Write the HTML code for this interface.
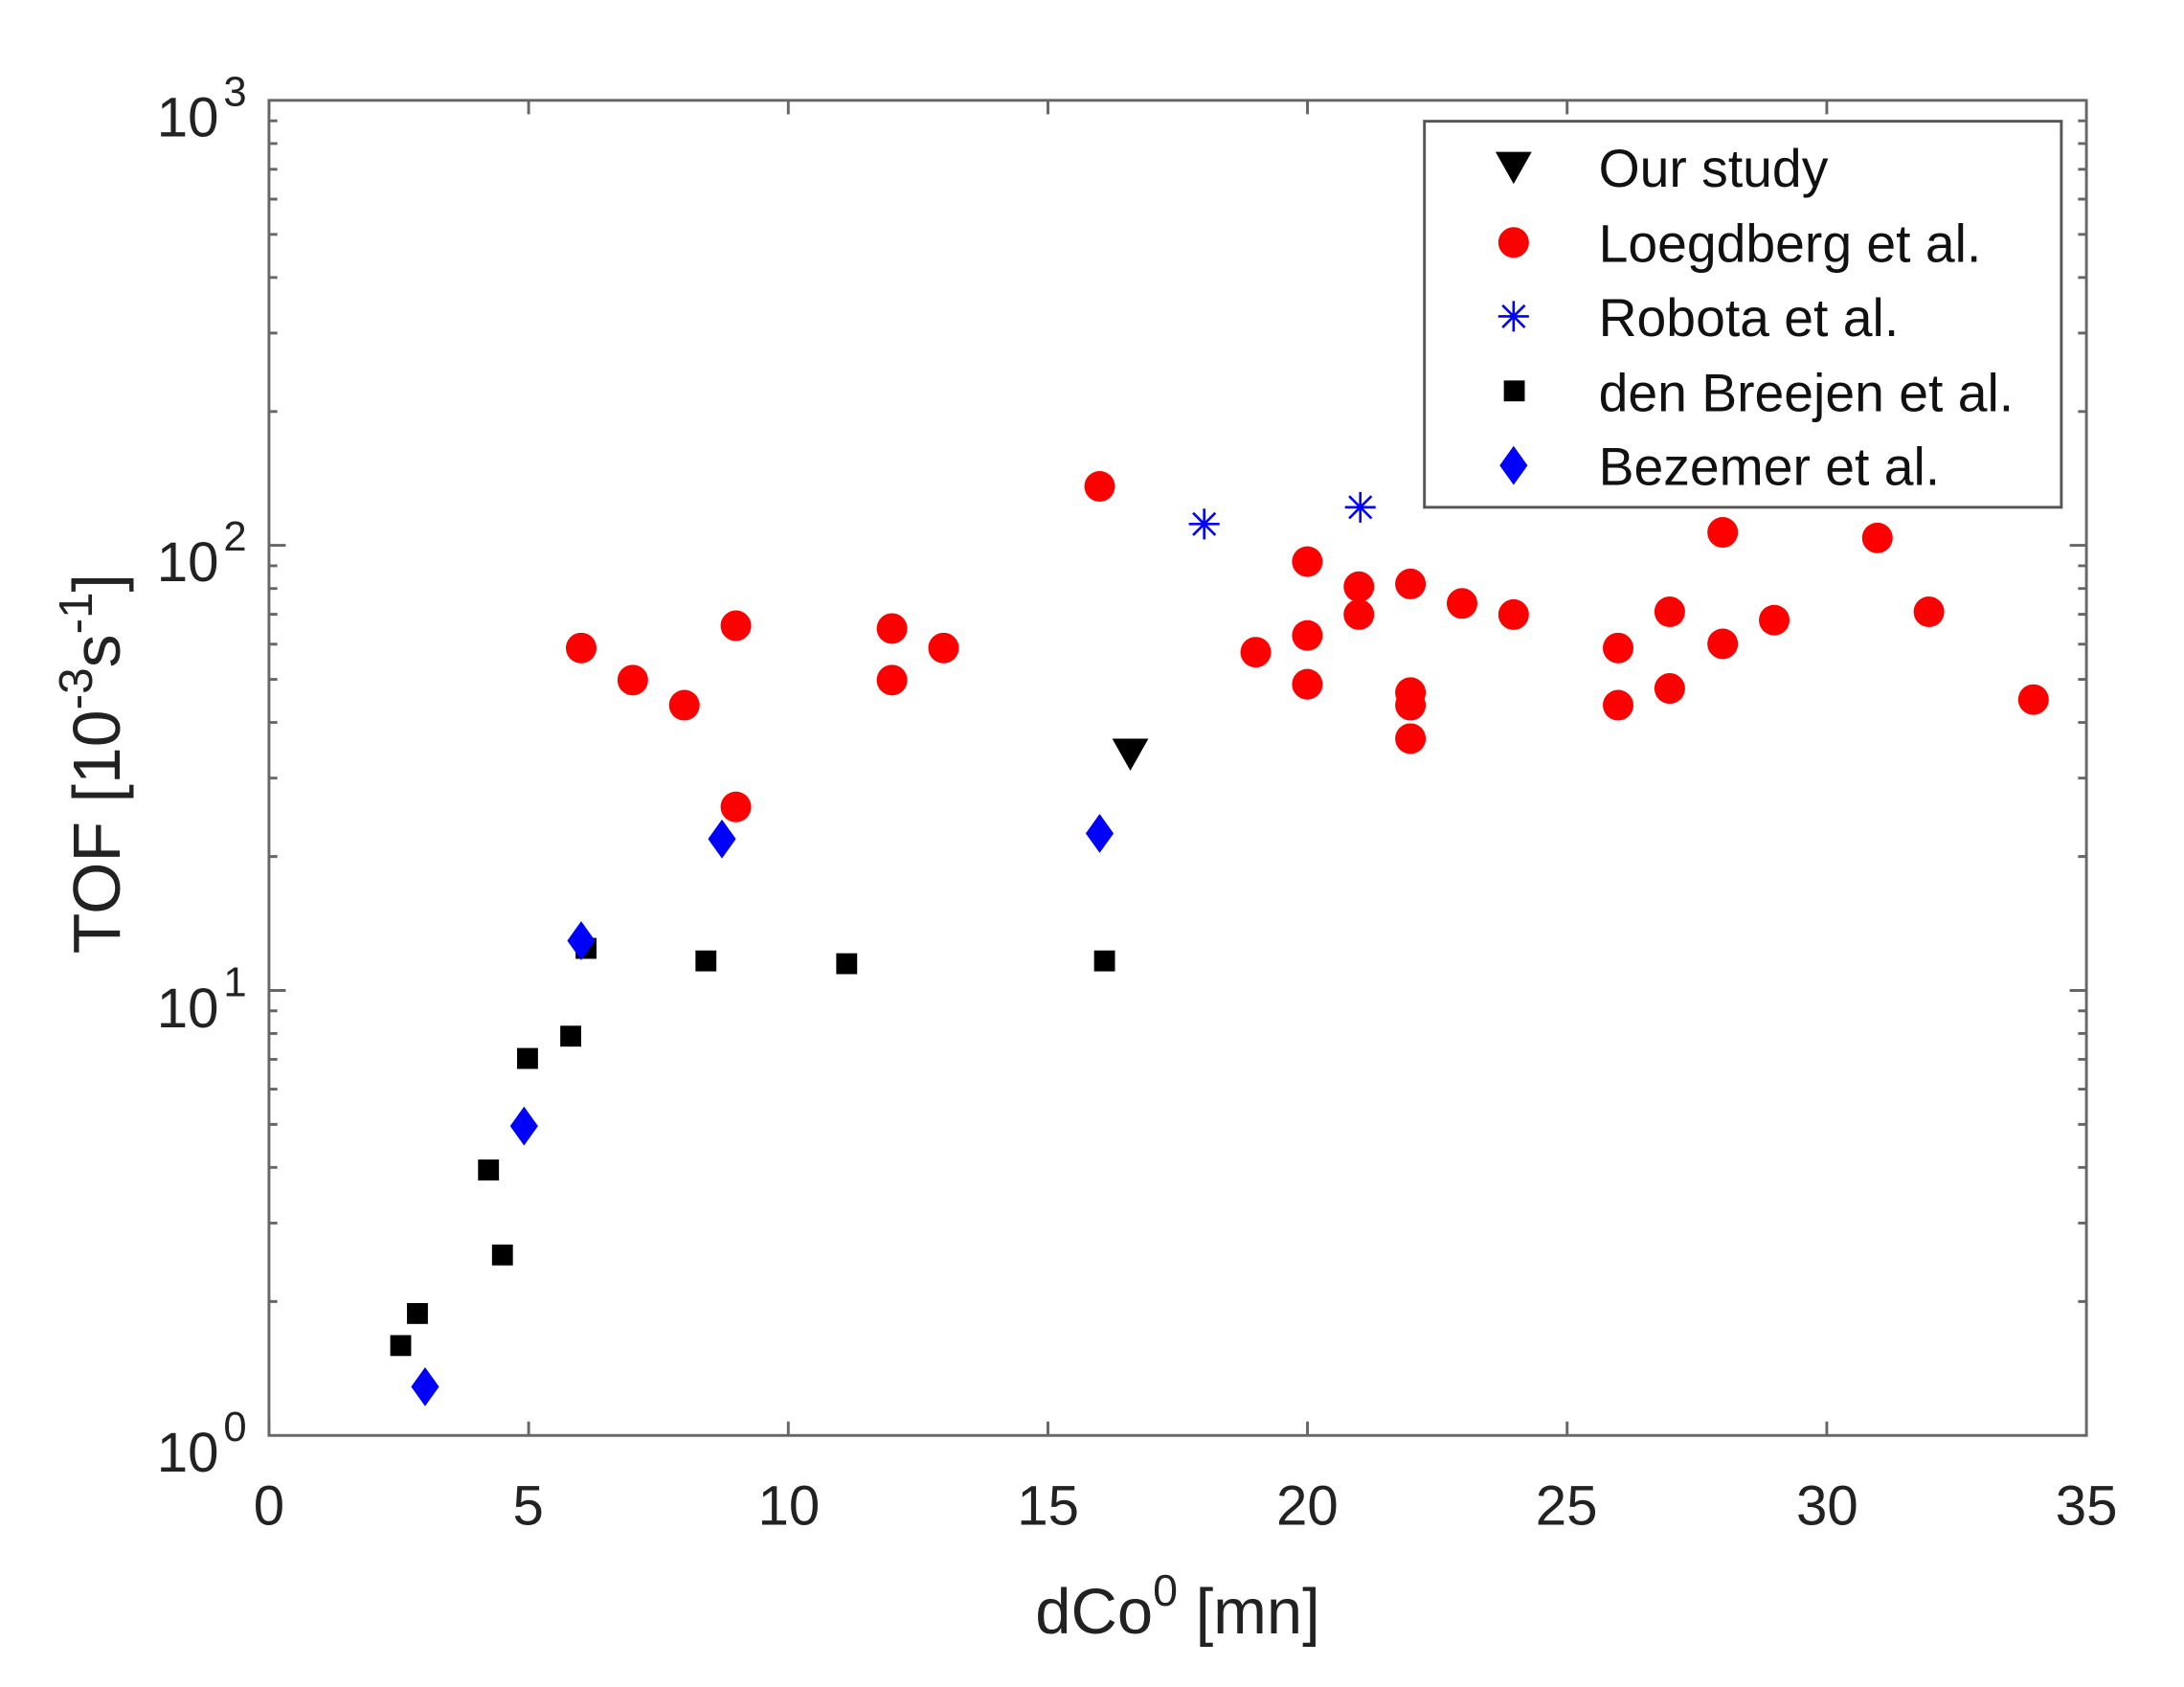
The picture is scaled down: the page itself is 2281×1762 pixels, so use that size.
<!DOCTYPE html>
<html><head><style>html,body{margin:0;padding:0;background:#fff}svg{display:block}</style></head>
<body>
<svg width="2281" height="1762" viewBox="0 0 1567 1210.5" preserveAspectRatio="none" xmlns="http://www.w3.org/2000/svg" font-family="Liberation Sans, sans-serif">
<rect width="1567" height="1211" fill="#fff"/>
<g stroke="#666" stroke-width="2" fill="none">
<rect x="193" y="72" width="1304" height="958"/>
<path d="M193,1030v-10M379.3,1030v-10M565.6,1030v-10M751.9,1030v-10M938.1,1030v-10M1124.4,1030v-10M1310.7,1030v-10M193,72v10M379.3,72v10M565.6,72v10M751.9,72v10M938.1,72v10M1124.4,72v10M1310.7,72v10"/>
<path d="M193,710.7h12M193,391.3h12M1497,710.7h-12M1497,391.3h-12"/>
<path d="M193,933.9h6M193,877.6h6M193,837.7h6M193,806.8h6M193,781.5h6M193,760.1h6M193,741.6h6M193,725.3h6M193,614.6h6M193,558.3h6M193,518.4h6M193,487.5h6M193,462.2h6M193,440.8h6M193,422.3h6M193,406.0h6M193,295.3h6M193,239.0h6M193,199.1h6M193,168.2h6M193,142.9h6M193,121.5h6M193,103.0h6M193,86.7h6"/>
<path d="M1497,933.9h-6M1497,877.6h-6M1497,837.7h-6M1497,806.8h-6M1497,781.5h-6M1497,760.1h-6M1497,741.6h-6M1497,725.3h-6M1497,614.6h-6M1497,558.3h-6M1497,518.4h-6M1497,487.5h-6M1497,462.2h-6M1497,440.8h-6M1497,422.3h-6M1497,406.0h-6M1497,295.3h-6M1497,239.0h-6M1497,199.1h-6M1497,168.2h-6M1497,142.9h-6M1497,121.5h-6M1497,103.0h-6M1497,86.7h-6"/>
</g>
<g font-size="40" fill="#222" text-anchor="middle">
<text x="193" y="1094">0</text><text x="379" y="1094">5</text><text x="566" y="1094">10</text><text x="752" y="1094">15</text><text x="938" y="1094">20</text><text x="1124" y="1094">25</text><text x="1311" y="1094">30</text><text x="1497" y="1094">35</text>
</g>
<g font-size="40" fill="#222" text-anchor="end">
<text x="157" y="1056">10</text><text x="177" y="1034" font-size="30">0</text>
<text x="157" y="737">10</text><text x="177" y="715" font-size="30">1</text>
<text x="157" y="417">10</text><text x="177" y="395" font-size="30">2</text>
<text x="157" y="98">10</text><text x="177" y="76" font-size="30">3</text>
</g>
<text x="845" y="1172" font-size="46" fill="#222" text-anchor="middle">dCo<tspan font-size="32" dy="-20">0</tspan><tspan dy="20"> [mn]</tspan></text>
<text transform="translate(86,548) rotate(-90)" font-size="48" fill="#222" text-anchor="middle">TOF [10<tspan font-size="34" dy="-20">-3</tspan><tspan dy="20">s</tspan><tspan font-size="34" dy="-20">-1</tspan><tspan dy="20">]</tspan></text>
<g fill="#f00">
<circle cx="417" cy="465" r="11"/><circle cx="454" cy="488" r="11"/><circle cx="491" cy="506" r="11"/><circle cx="528" cy="449" r="11"/><circle cx="528" cy="579" r="11"/><circle cx="640" cy="451" r="11"/><circle cx="640" cy="488" r="11"/><circle cx="677" cy="465" r="11"/><circle cx="789" cy="349" r="11"/><circle cx="901" cy="468" r="11"/><circle cx="938" cy="403" r="11"/><circle cx="938" cy="456" r="11"/><circle cx="938" cy="491" r="11"/><circle cx="975" cy="421" r="11"/><circle cx="975" cy="441" r="11"/><circle cx="1012" cy="419" r="11"/><circle cx="1012" cy="497" r="11"/><circle cx="1012" cy="506" r="11"/><circle cx="1012" cy="530" r="11"/><circle cx="1049" cy="433" r="11"/><circle cx="1086" cy="441" r="11"/><circle cx="1161" cy="465" r="11"/><circle cx="1161" cy="506" r="11"/><circle cx="1198" cy="439" r="11"/><circle cx="1198" cy="494" r="11"/><circle cx="1236" cy="382" r="11"/><circle cx="1236" cy="462" r="11"/><circle cx="1273" cy="445" r="11"/><circle cx="1347" cy="386" r="11"/><circle cx="1384" cy="439" r="11"/><circle cx="1459" cy="502" r="11"/>
</g>
<g fill="#000">
<rect x="280" y="958" width="15" height="15"/><rect x="292" y="935" width="15" height="15"/><rect x="343" y="832" width="15" height="15"/><rect x="353" y="893" width="15" height="15"/><rect x="371" y="752" width="15" height="15"/><rect x="402" y="736" width="15" height="15"/><rect x="413" y="673" width="15" height="15"/><rect x="499" y="682" width="15" height="15"/><rect x="600" y="684" width="15" height="15"/><rect x="785" y="682" width="15" height="15"/>
<path d="M798,530h26l-13,23z"/>
</g>
<g fill="#00f">
<path d="M305,981l10,14l-10,14l-10,-14z"/><path d="M376,794l10,14l-10,14l-10,-14z"/><path d="M417,661l10,14l-10,14l-10,-14z"/><path d="M518,588l10,14l-10,14l-10,-14z"/><path d="M789,584l10,14l-10,14l-10,-14z"/>
</g>
<g stroke="#00f" stroke-width="1.8">
<path d="M864,365v22M853,376h22M856,368l16,16M872,368l-16,16"/>
<path d="M976,353v22M965,364h22M968,356l16,16M984,356l-16,16"/>
</g>
<rect x="1022" y="87" width="457" height="277" fill="#fff" stroke="#555" stroke-width="2"/>
<g font-size="38" fill="#111">
<text x="1147" y="134">Our study</text>
<text x="1147" y="188">Loegdberg et al.</text>
<text x="1147" y="241">Robota et al.</text>
<text x="1147" y="295">den Breejen et al.</text>
<text x="1147" y="348">Bezemer et al.</text>
</g>
<path d="M1073,109h26l-13,23z" fill="#000"/>
<circle cx="1086" cy="174" r="11" fill="#f00"/>
<path d="M1086,216v22M1075,227h22M1078,219l16,16M1094,219l-16,16" stroke="#00f" stroke-width="1.8"/>
<rect x="1079" y="273" width="15" height="15" fill="#000"/>
<path d="M1086,320l10,14l-10,14l-10,-14z" fill="#00f"/>
</svg>
</body></html>
